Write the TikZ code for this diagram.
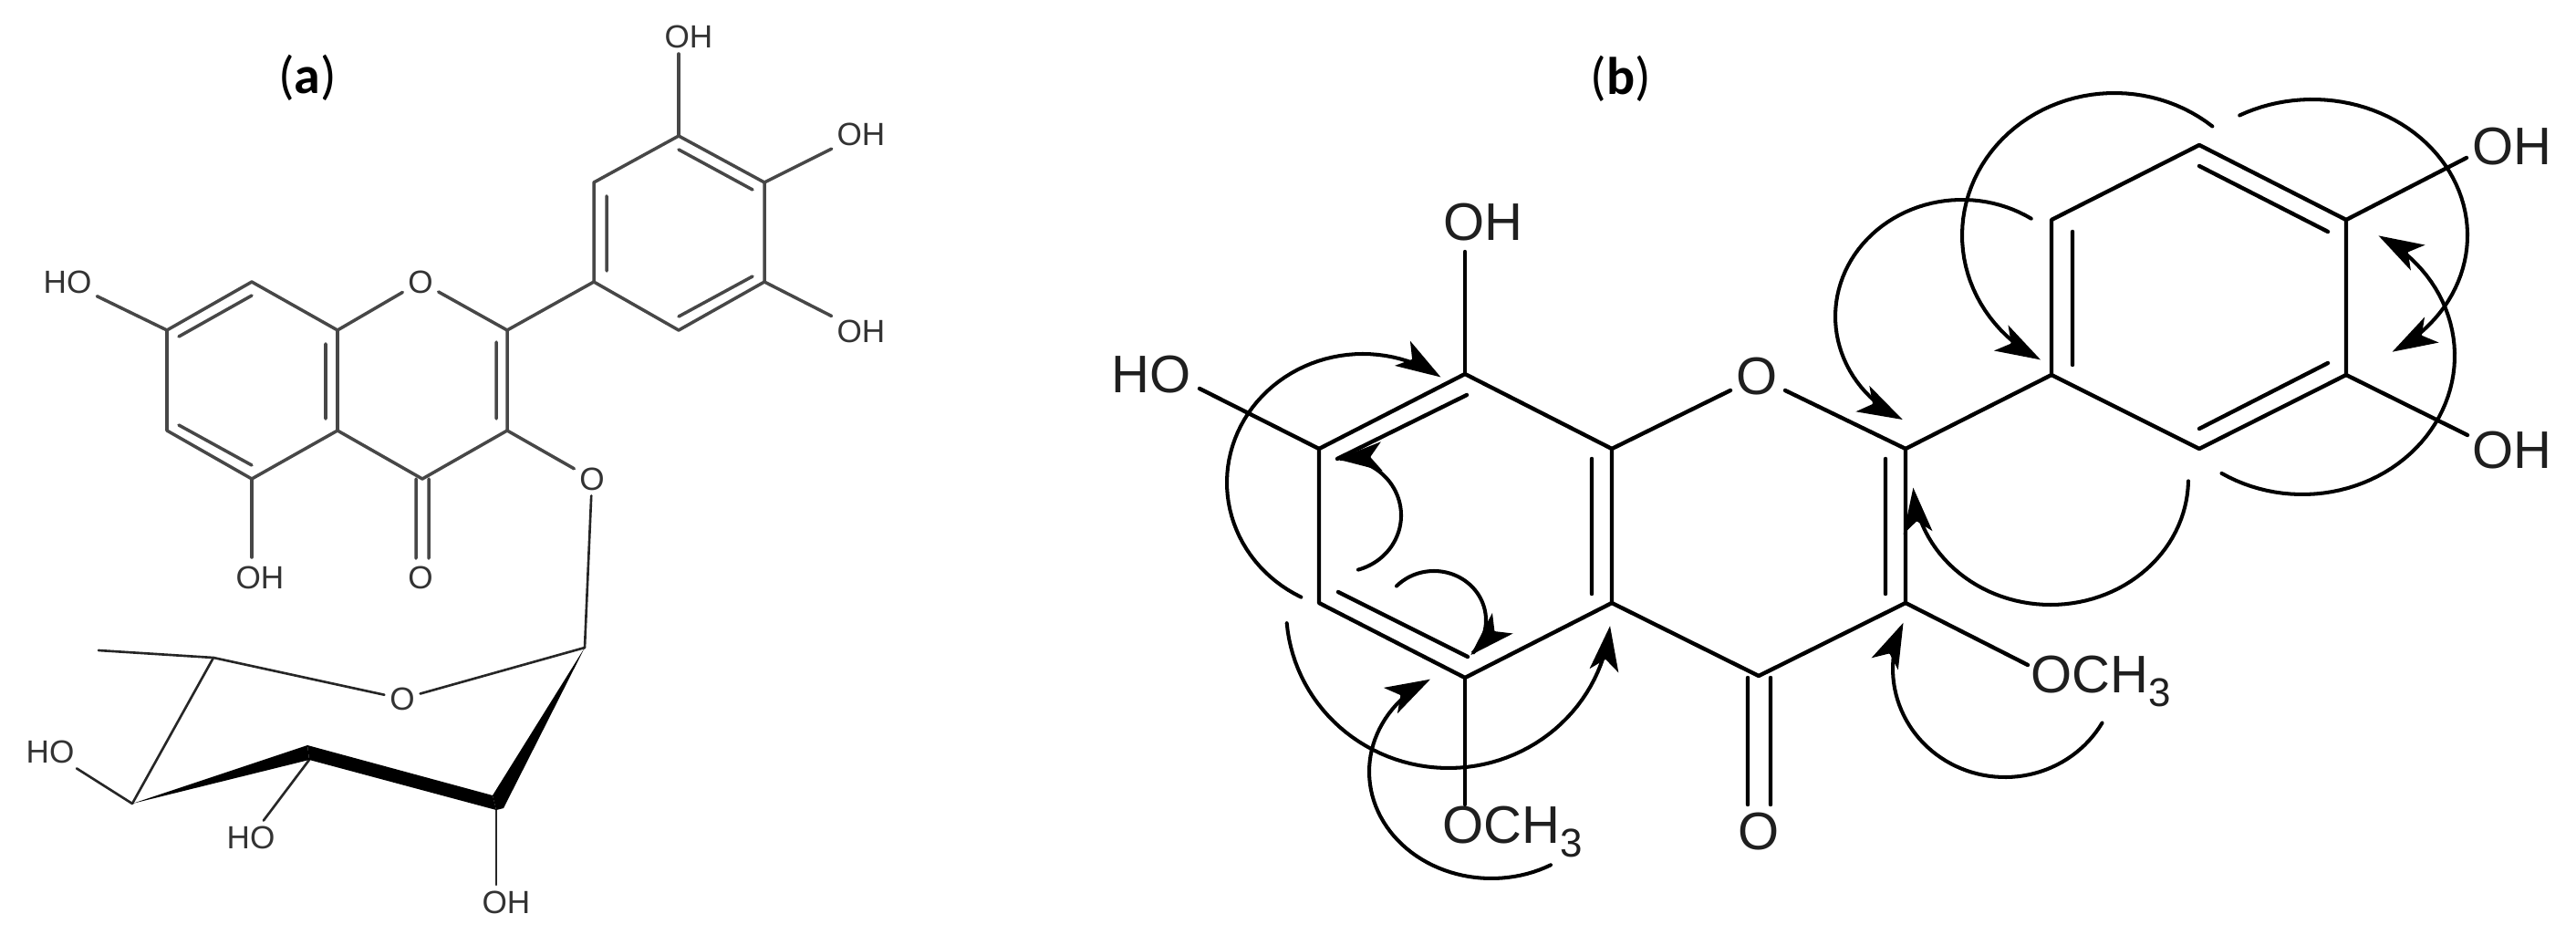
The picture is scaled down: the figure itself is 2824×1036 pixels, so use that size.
\documentclass[tikz,border=0pt]{standalone}
\usepackage{fontspec}
\setmainfont{Liberation Sans}
\newfontfamily\panelfont{Carlito}
\usetikzlibrary{arrows.meta}
\newcommand{\threesub}{\raisebox{-4.5pt}{\fontsize{12.5}{14}\selectfont 3}}
\newcommand{\elarc}[6]{\path[arcb,head] plot[domain=#5:#6,samples=60,variable=\t] ({#1+#3*cos(\t)},{#2+#4*sin(\t)});}
\tikzset{
  x=0.1mm,y=-0.1mm,
  bonda/.style={draw=black!72,line width=1pt,line cap=round,line join=round},
  thina/.style={draw=black!85,line width=.75pt,line cap=round,line join=round},
  bondb/.style={draw=black,line width=1.25pt,line cap=round,line join=round},
  arcb/.style={draw=black,line width=1.15pt,line cap=round},
  head/.style={-{Stealth[length=14pt,width=9pt,inset=3.5pt]}},
  labela/.style={font=\fontsize{10}{12}\selectfont,text=black!80,inner sep=1.5pt,anchor=center},
  labelb/.style={font=\fontsize{16.5}{19}\selectfont,text=black!88,inner sep=0pt},
  panel/.style={font=\panelfont\fontsize{16.5}{20}\selectfont,inner sep=0pt},
}
\begin{document}
\begin{tikzpicture}
\useasboundingbox[fill=white] (0,0) rectangle (2824,1036);
\node[panel] (pa) at (337,85) {(\textbf{a})};
\node[panel] (pb) at (1777,86) {(\textbf{b})};
% ---------- panel a atoms
\foreach \n/\x/\y in {a7/183/362,a8/276/309,a8a/370/362,a4a/370/472,a5/276/525,a6/183/472,a2/556/362,a3/556/472,a4/463/525,
  b1/651/309,b2/651/200,b3/744/149,b4/838/200,b5/838/309,b6/744/362,
  s1/641/710,s5/234/721,me/108/713,s4/145/881,s3/337/817,s3b/339/833,s2/540/872,s2b/544/888,s2c/552/886,
  e5a/276/611,e3a/744/59,e2s/544/970}
  \coordinate (\n) at (\x,\y);
\foreach \n/\x/\y in {i1/196/369,i2/276/324,i3/357/377,i4/357/459,i5/196/466,i6/276/510,i7/544/375,i8/544/459,
  i9/665/215,i10/665/297,i11/744/164,i12/825/208,i13/825/303,i14/744/347,
  co1/456/525,co2/456/612,co3/470/525,co4/470/612}
  \coordinate (\n) at (\x,\y);
\node[labela] (oa1) at (461,309) {O};
\node[labela] (ooa) at (461,633) {O};
\node[labela] (oh5a) at (285,633) {OH};
\node[labela] (ho7a) at (74,309) {HO};
\node[labela] (o3a) at (649,525) {O};
\node[labela] (ohta) at (755,40) {OH};
\node[labela] (oh4a) at (944,147) {OH};
\node[labela] (oh3a) at (944,363) {OH};
\node[labela] (osa) at (441,766) {O};
\node[labela] (ho4s) at (55,824) {HO};
\node[labela] (ho3s) at (275,918) {HO};
\node[labela] (oh2s) at (555,989) {OH};
\path[bonda] (a7)--(a8)--(a8a)--(a4a)--(a5)--(a6)--cycle;
\path[bonda] (a8a)--(oa1)--(a2)--(a3)--(a4)--(a4a);
\path[bonda] (i1)--(i2) (i3)--(i4) (i5)--(i6) (i7)--(i8) (co1)--(co2) (co3)--(co4);
\path[bonda] (a7)--(ho7a);
\path[bonda] (a5)--(e5a);
\path[bonda] (a2)--(b1);
\path[bonda] (b1)--(b2)--(b3)--(b4)--(b5)--(b6)--cycle;
\path[bonda] (i9)--(i10) (i11)--(i12) (i13)--(i14);
\path[bonda] (b3)--(e3a);
\path[bonda] (b4)--(oh4a);
\path[bonda] (b5)--(oh3a);
\path[bonda] (a3)--(o3a);
\path[thina] (o3a)--(s1);
% sugar
\path[thina] (s1)--(osa)--(s5)--(me);
\path[thina] (s5)--(s4);
\path[thina] (s4)--(ho4s);
\path[thina] (s3b)--(ho3s);
\path[thina] (s2b)--(e2s);
\fill[black] (s4)--(s3)--(s3b)--cycle;
\fill[black] (s3)--(s2)--(s2b)--(s3b)--cycle;
\fill[black] (s1)--(s2c)--(s2b)--(s2)--cycle;
% ---------- panel b atoms
\foreach \n/\x/\y in {c8/1606/410,c7/1446/492,c6/1446/661,c5/1606/743,c4a/1767/661,c8a/1767/492,
  c4/1928/741,c2/2089/492,c3/2089/661,
  d1/2249/411,d2/2249/241,d3/2411/159,d4/2572/241,d5/2572/411,d6/2411/492,
  j1/1608/433,j2/1466/503,j3/1467/649,j4/1609/720,j5/1745/503,j6/1745/651,j7/2067/503,j8/2067/651,
  j9/2272/254,j10/2272/400,j11/2411/182,j12/2552/254,j13/2552/398,j14/2411/470,
  k1/1916/743,k2/1916/882,k3/1941/743,k4/1941/882,
  e8/1606/276,e7/1315/426,e5/1606/882,e3/2223/729,f4/2704/173,f3/2705/477,f1a/1897/428,f1b/1957/428}
  \coordinate (\n) at (\x,\y);
\node[labelb] (ob1) at (1926,413) {O};
\node[labelb] (oob) at (1928,912) {O};
\node[labelb] (oh8b) at (1626,244) {OH};
\node[labelb] (ho7b) at (1262,411) {HO};
\node[labelb,anchor=west] (om5b) at (1581,912) {OCH\threesub};
\node[labelb,anchor=west] (om3b) at (2226,747) {OCH\threesub};
\node[labelb,anchor=west] (oh4b) at (2710,161) {OH};
\node[labelb,anchor=west] (oh3b) at (2710,494) {OH};
\path[bondb] (c8)--(c7)--(c6)--(c5)--(c4a)--(c8a)--cycle;
\path[bondb] (j1)--(j2) (j3)--(j4) (j5)--(j6) (j7)--(j8) (j9)--(j10) (j11)--(j12) (j13)--(j14) (k1)--(k2) (k3)--(k4);
\path[bondb] (c8a)--(f1a) (f1b)--(c2)--(c3)--(c4)--(c4a);
\path[bondb] (c2)--(d1);
\path[bondb] (d1)--(d2)--(d3)--(d4)--(d5)--(d6)--cycle;
\path[bondb] (c8)--(e8);
\path[bondb] (c7)--(e7);
\path[bondb] (c5)--(e5);
\path[bondb] (c3)--(e3);
\path[bondb] (d4)--(f4);
\path[bondb] (d5)--(f3);
% NOE-type arcs
\elarc{1494}{529}{149}{141}{117}{305}
\elarc{1471}{565}{65}{62}{74}{-95}
\elarc{1572}{680}{57}{54}{224}{405}
\elarc{1588}{668}{178}{174}{175}{6}
\elarc{1635}{846}{134}{117}{61}{240}
\elarc{2151}{347}{139}{128}{303}{118}
\elarc{2318}{258}{167}{156}{310}{119}
\elarc{2535}{258}{170}{149}{242}{419}
\elarc{2524}{390}{167}{152}{122}{-60}
\elarc{2248}{525}{151}{138}{1}{176}
\elarc{2198}{733}{123}{119}{30}{205}
\end{tikzpicture}
\end{document}
